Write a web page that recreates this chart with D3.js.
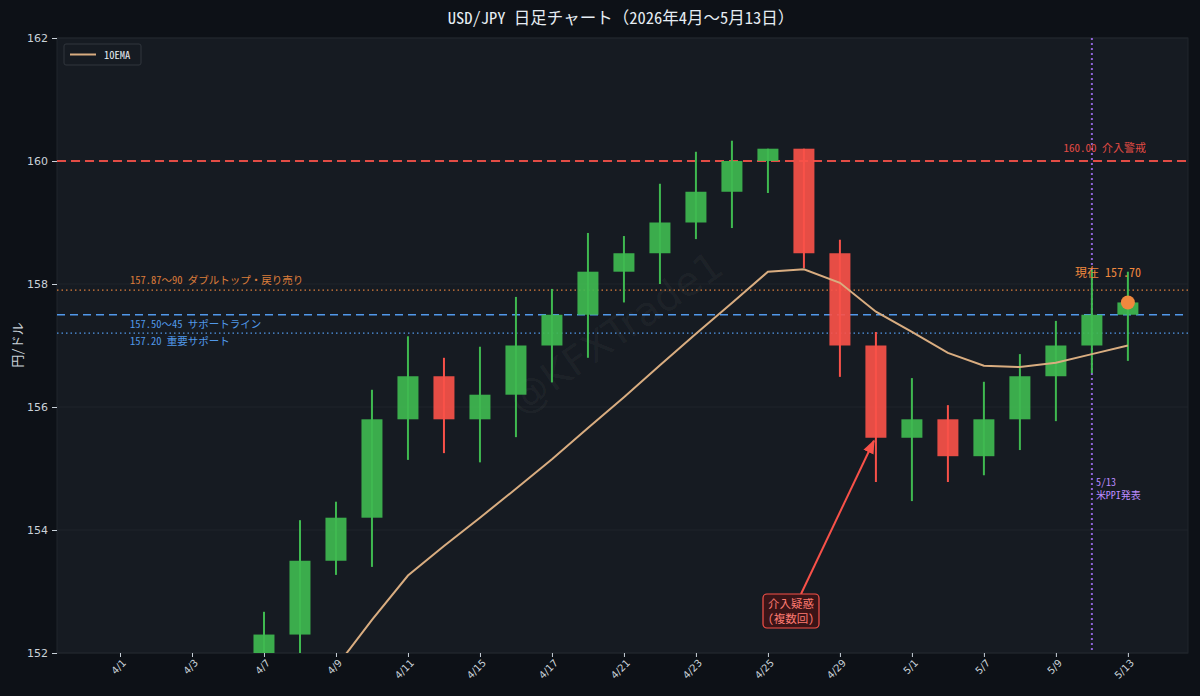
<!DOCTYPE html>
<html><head><meta charset="utf-8">
<script src="https://cdn.jsdelivr.net/npm/d3@7"></script>
<style>
html,body{margin:0;padding:0;background:#0d1117;}
svg{display:block;}
text{font-family:"Noto Sans Mono CJK JP","Noto Sans CJK JP","DejaVu Sans Mono",monospace;}
</style></head>
<body><svg id="c" width="1200" height="696"></svg>
<script>
const dates = ["4/1","4/2","4/3","4/6","4/7","4/8","4/9","4/10","4/11","4/14","4/15","4/16","4/17","4/20","4/21","4/22","4/23","4/24","4/25","4/28","4/29","4/30","5/1","5/6","5/7","5/8","5/9","5/12","5/13"];
const openV  = [150.2,150.5,150.8,151.1,151.5,152.3,153.5,154.2,155.8,156.5,155.8,156.2,157.0,157.5,158.2,158.5,159.0,159.5,160.0,160.2,158.5,157.0,155.5,155.8,155.2,155.8,156.5,157.0,157.5];
const highV  = [150.7,151.0,151.3,151.7,152.67,154.16,154.46,156.28,157.15,156.8,156.98,157.79,157.92,158.83,158.78,159.63,160.15,160.33,160.2,160.2,158.72,157.22,156.47,156.03,156.41,156.86,157.4,158.23,158.2];
const lowV   = [149.9,150.2,150.5,150.9,151.3,151.95,153.27,153.4,155.14,155.25,155.1,155.51,156.4,156.8,157.7,158.0,158.73,158.91,159.48,158.26,156.49,154.78,154.47,154.78,154.89,155.3,155.77,156.55,156.75];
const closeV = [150.5,150.8,151.1,151.5,152.3,153.5,154.2,155.8,156.5,155.8,156.2,157.0,157.5,158.2,158.5,159.0,159.5,160.0,160.2,158.5,157.0,155.5,155.8,155.2,155.8,156.5,157.0,157.5,157.7];
const ema10  = [148.6,149.0,149.5,150.0,150.6,151.2,151.77,152.54,153.26,153.74,154.2,154.67,155.15,155.66,156.16,156.68,157.19,157.69,158.2,158.24,158.02,157.55,157.22,156.88,156.67,156.65,156.72,156.86,157.0];
const yTicks = [152,154,156,158,160,162];
const xTickIdx = [0,2,4,6,8,10,12,14,16,18,20,22,24,26,28];
const levels = [
  {v:160.00, label:"160.00 介入警戒", color:"#f85149", dash:"9,5", w:2, side:"right"},
  {v:157.90, label:"157.87〜90 ダブルトップ・戻り売り", color:"#f0883e", dash:"1.5,3", w:1.2, side:"left", dy:-9},
  {v:157.50, label:"157.50〜45 サポートライン", color:"#58a6ff", dash:"8,5", w:1.6, side:"left", dy:10},
  {v:157.20, label:"157.20 重要サポート", color:"#58a6ff", dash:"1.5,3", w:1.2, side:"left", dy:9}
];
const currentPrice = 157.70, currentIdx = 28;
const eventIdx = 27, eventLabel = ["5/13","米PPI発表"];
const interventionIdx = 21, interventionLabel = ["介入疑惑","(複数回)"];

const svg = d3.select("#c");
const L=57, T=38, R=1188, B=653;
const x = d3.scaleLinear().domain([-1.75, 29.67]).range([L, R]);
const y = d3.scaleLinear().domain([152, 162]).range([B, T]);

svg.append("defs").append("clipPath").attr("id","clip")
  .append("rect").attr("x",L).attr("y",T).attr("width",R-L).attr("height",B-T);
svg.select("defs").append("marker").attr("id","arr").attr("viewBox","0 0 10 10")
  .attr("refX",9).attr("refY",5).attr("markerWidth",7).attr("markerHeight",7).attr("orient","auto")
  .append("path").attr("d","M0,1 L10,5 L0,9 Z").attr("fill","#f85149");

svg.append("rect").attr("x",L).attr("y",T).attr("width",R-L).attr("height",B-T)
  .attr("fill","#161b22").attr("stroke","#21262d");

// title
svg.append("text").attr("x",621).attr("y",24).attr("text-anchor","middle")
  .attr("fill","#e6edf3").attr("font-size",16.5).text("USD/JPY 日足チャート（2026年4月〜5月13日）");

// grid
svg.append("g").selectAll("line").data(yTicks).join("line")
  .attr("x1",L).attr("x2",R).attr("y1",d=>y(d)).attr("y2",d=>y(d))
  .attr("stroke","#21262d").attr("stroke-width",0.8);

// axes
const ya = svg.append("g").attr("transform",`translate(${L},0)`)
  .call(d3.axisLeft(y).tickValues(yTicks).tickSize(5).tickPadding(4));
ya.select(".domain").remove();
ya.selectAll("line").attr("stroke","#c9d1d9");
ya.selectAll("text").attr("fill","#c9d1d9").attr("font-size",11).style("font-family","DejaVu Sans, sans-serif");

const xa = svg.append("g").attr("transform",`translate(0,${B})`)
  .call(d3.axisBottom(x).tickValues(xTickIdx).tickFormat(i=>dates[i]).tickSize(4));
xa.select(".domain").remove();
xa.selectAll("line").attr("stroke","#c9d1d9");
xa.selectAll("text").attr("fill","#c9d1d9").attr("font-size",10)
  .attr("text-anchor","end").attr("transform","rotate(-45)").attr("dx","-0.3em").attr("dy","0.5em")
  .style("font-family","DejaVu Sans, sans-serif");

svg.append("text").attr("transform","translate(22,345) rotate(-90)").attr("text-anchor","middle")
  .attr("fill","#c9d1d9").attr("font-size",13).text("円/ドル");

// watermark
svg.append("text").attr("transform","translate(617,335) rotate(-35)").attr("text-anchor","middle")
  .attr("dominant-baseline","middle").attr("fill","#ffffff").attr("fill-opacity",0.045)
  .attr("font-size",40).style("font-family","DejaVu Sans, sans-serif").text("@KFXTrade1");

const g = svg.append("g").attr("clip-path","url(#clip)");

// level lines
levels.forEach(l=>{
  g.append("line").attr("x1",L).attr("x2",R).attr("y1",y(l.v)).attr("y2",y(l.v))
    .attr("stroke",l.color).attr("stroke-width",l.w).attr("stroke-dasharray",l.dash).attr("opacity",0.9);
  if(l.side==="right"){
    svg.append("text").attr("x",1146).attr("y",y(l.v)-9).attr("text-anchor","end")
      .attr("fill",l.color).attr("font-size",11).attr("opacity",0.9).text(l.label);
  } else {
    svg.append("text").attr("x",130).attr("y",y(l.v)+l.dy).attr("dominant-baseline","middle")
      .attr("fill",l.color).attr("font-size",10.5).attr("opacity",0.9).text(l.label);
  }
});

// event vertical line
g.append("line").attr("x1",x(eventIdx)).attr("x2",x(eventIdx)).attr("y1",T).attr("y2",B)
  .attr("stroke","#a371f7").attr("stroke-width",2).attr("stroke-dasharray","2,3").attr("opacity",0.85);
eventLabel.forEach((t,i)=>{
  svg.append("text").attr("x",x(eventIdx)+4).attr("y",486+i*13).attr("fill","#bc8cff").attr("font-size",10).text(t);
});

// candles
const bw = 21;
const idx = d3.range(dates.length);
const cg = g.append("g");
cg.selectAll("line.w").data(idx).join("line").attr("class","w")
  .attr("x1",i=>x(i)).attr("x2",i=>x(i)).attr("y1",i=>y(highV[i])).attr("y2",i=>y(lowV[i]))
  .attr("stroke",i=>closeV[i]>=openV[i]?"#3fb950":"#f85149").attr("stroke-width",2);
cg.selectAll("rect.b").data(idx).join("rect").attr("class","b")
  .attr("x",i=>x(i)-bw/2).attr("width",bw)
  .attr("y",i=>y(Math.max(openV[i],closeV[i])))
  .attr("height",i=>Math.max(1,Math.abs(y(openV[i])-y(closeV[i]))))
  .attr("fill",i=>closeV[i]>=openV[i]?"#3fb950":"#f85149").attr("fill-opacity",0.92);

// EMA
g.append("path").datum(idx).attr("fill","none").attr("stroke","#d9ad80").attr("stroke-width",2)
  .attr("d",d3.line().x(i=>x(i)).y(i=>y(ema10[i])));

// current
svg.append("circle").attr("cx",x(currentIdx)).attr("cy",y(currentPrice)).attr("r",7).attr("fill","#f0883e");
svg.append("text").attr("x",x(currentIdx)-20).attr("y",y(currentPrice)-25).attr("text-anchor","middle")
  .attr("fill","#f0883e").attr("font-size",12).text("現在 " + currentPrice.toFixed(2));

// intervention annotation
const bx = 791, by = 611;
svg.append("line").attr("x1",bx+10).attr("y1",by-17).attr("x2",x(interventionIdx)-2).attr("y2",y(closeV[interventionIdx])+3)
  .attr("stroke","#f85149").attr("stroke-width",2).attr("marker-end","url(#arr)");
svg.append("rect").attr("x",bx-28).attr("y",by-17).attr("width",56).attr("height",34).attr("rx",4)
  .attr("fill","#3a1417").attr("stroke","#f85149").attr("stroke-width",1.2);
interventionLabel.forEach((t,i)=>{
  svg.append("text").attr("x",bx).attr("y",by-3+i*15).attr("text-anchor","middle")
    .attr("fill","#ff7b72").attr("font-size",11.5).text(t);
});

// legend
const lg = svg.append("g");
lg.append("rect").attr("x",64).attr("y",44).attr("width",77).attr("height",21).attr("rx",2)
  .attr("fill","#161b22").attr("stroke","#30363d");
lg.append("line").attr("x1",70).attr("x2",96).attr("y1",54.5).attr("y2",54.5).attr("stroke","#d9ad80").attr("stroke-width",2);
lg.append("text").attr("x",104).attr("y",58.5).attr("fill","#e6edf3").attr("font-size",10.5).text("10EMA");
</script></body></html>
